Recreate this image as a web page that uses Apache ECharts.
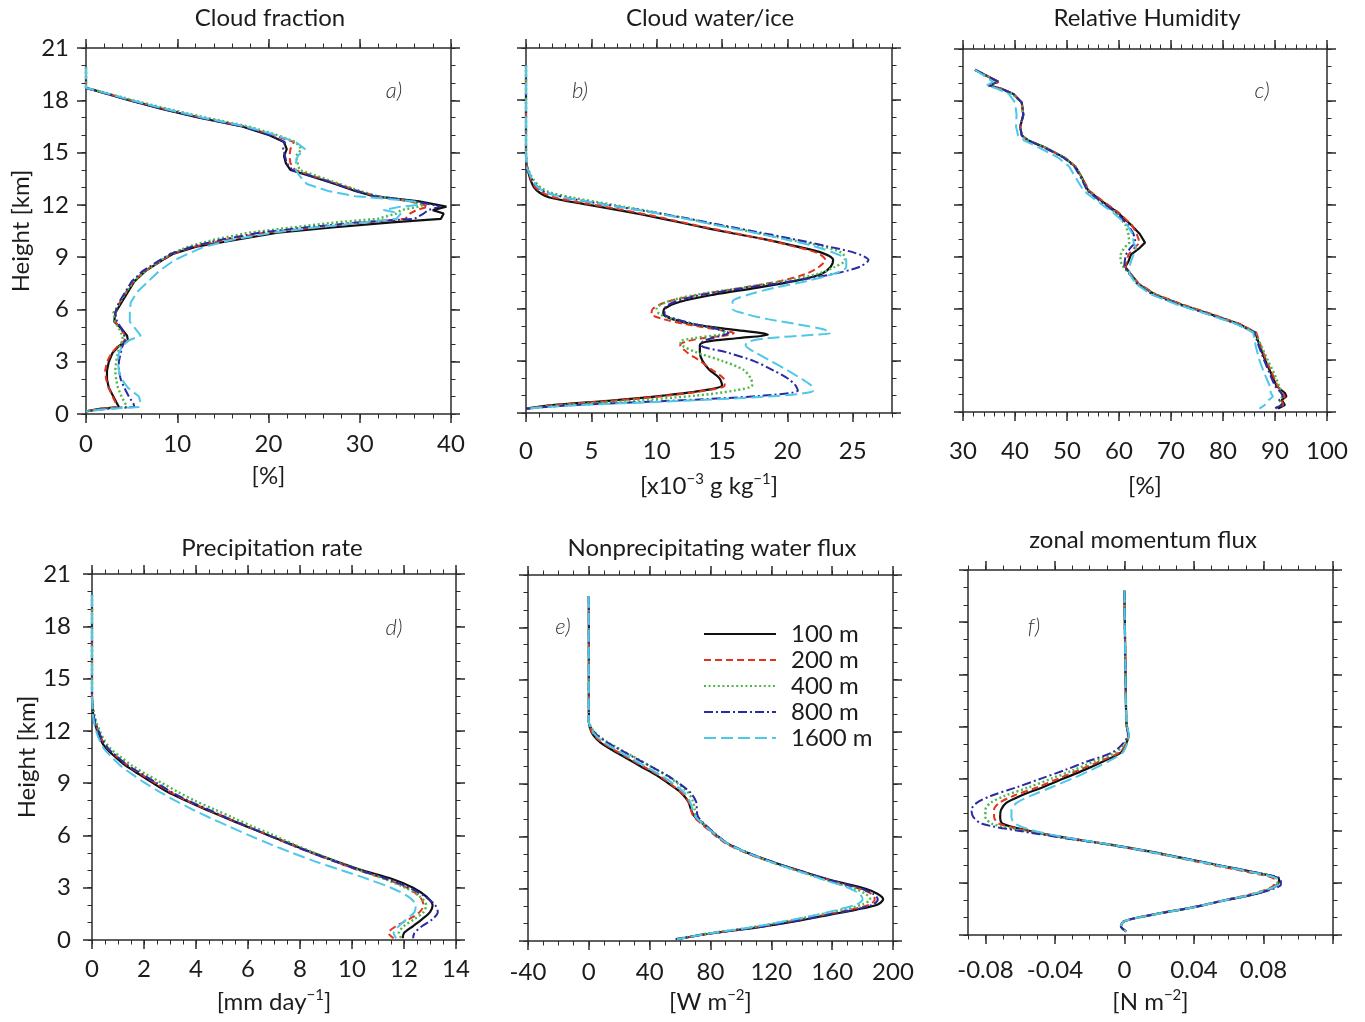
<!DOCTYPE html>
<html>
<head>
<meta charset="utf-8">
<title>Profiles</title>
<script src="https://cdn.jsdelivr.net/npm/echarts@6/dist/echarts.min.js"></script>
<style>
  html, body { margin: 0; padding: 0; background: #fff; }
  #chart { width: 1365px; height: 1022px; }
</style>
</head>
<body>
<div id="chart"></div>
<script>
// runs (grid spacings)
const RUNS = ['100 m', '200 m', '400 m', '800 m', '1600 m'];

// a) cloud fraction [%]
const hA = [19.9, 18.7, 18.6, 18.0, 17.5, 17.0, 16.5, 16.0, 15.6, 15.2, 14.8, 14.4, 14.0, 13.6, 13.2, 12.8, 12.5, 12.2, 12.0, 11.9, 11.7, 11.5, 11.2, 11.0, 10.7, 10.4, 10.0, 9.6, 9.2, 8.8, 8.2, 7.6, 7.0, 6.4, 5.8, 5.3, 4.9, 4.5, 4.2, 3.9, 3.5, 3.0, 2.5, 2.0, 1.5, 1.0, 0.6, 0.4, 0.3, 0.15];
const cfA100 = [0, 0, 0.8, 4.7, 8.3, 12.4, 17.1, 20.1, 21.7, 22.0, 21.7, 21.9, 22.4, 24.9, 27.3, 29.5, 31.5, 36.5, 38.5, 39.5, 38.0, 39.2, 38.9, 33.5, 27.0, 21.0, 16.5, 12.1, 9.6, 8.3, 6.5, 5.3, 4.6, 3.9, 3.2, 3.1, 3.9, 4.5, 4.6, 3.6, 2.9, 2.5, 2.3, 2.3, 2.5, 3.0, 3.4, 3.6, 1.5, 0];
const cfA200 = [0, 0, 0.8, 4.9, 8.6, 12.7, 17.3, 20.5, 22.8, 22.4, 22.3, 22.4, 22.9, 25.2, 27.6, 29.8, 31.8, 35.5, 37.0, 37.5, 36.2, 35.5, 35.0, 30.5, 25.0, 19.5, 15.3, 11.8, 9.5, 8.2, 6.4, 5.2, 4.4, 3.7, 3.2, 3.2, 3.8, 4.3, 4.2, 3.5, 2.8, 2.3, 2.1, 2.2, 2.5, 2.9, 3.3, 3.4, 1.5, 0];
const cfA400 = [0, 0, 0.9, 5.2, 9.0, 13.2, 17.8, 21.0, 23.0, 23.6, 23.0, 23.2, 23.4, 25.6, 27.8, 30.0, 32.0, 35.5, 37.0, 36.5, 34.5, 34.0, 32.0, 27.5, 22.5, 17.8, 14.0, 11.2, 9.3, 8.2, 6.5, 5.2, 4.4, 3.7, 3.0, 3.2, 3.6, 4.0, 4.0, 3.7, 3.5, 3.3, 3.2, 3.3, 3.5, 3.9, 4.3, 4.5, 2.0, 0];
const cfA800 = [0, 0, 0.8, 4.8, 8.4, 12.5, 17.2, 20.2, 21.8, 21.6, 21.8, 22.0, 22.6, 25.0, 27.4, 29.6, 31.6, 36.0, 38.0, 38.8, 37.5, 37.0, 36.0, 30.0, 24.0, 19.0, 14.8, 11.6, 9.3, 8.0, 6.2, 5.0, 4.3, 3.6, 3.2, 3.4, 3.9, 4.2, 4.3, 4.0, 3.8, 3.6, 3.6, 3.8, 4.2, 4.7, 5.2, 5.3, 2.2, 0];
const cfA1600 = [0, 0, 0.9, 5.0, 8.7, 12.8, 17.5, 20.8, 23.0, 24.0, 23.2, 23.0, 23.0, 23.5, 24.2, 26.5, 29.5, 36.0, 36.5, 34.5, 32.6, 34.5, 34.0, 30.5, 25.0, 20.5, 16.0, 13.0, 11.2, 9.6, 8.0, 6.8, 5.6, 4.9, 4.8, 4.8, 5.4, 6.0, 4.6, 4.0, 3.6, 3.5, 3.6, 3.9, 4.6, 5.8, 6.0, 5.8, 2.5, 0];

// b) cloud water/ice [1e-3 g/kg]
const hB = [20.0, 15.0, 14.2, 13.8, 13.4, 13.0, 12.7, 12.4, 12.0, 11.6, 11.2, 10.8, 10.4, 10.0, 9.6, 9.2, 8.8, 8.4, 8.0, 7.6, 7.2, 6.8, 6.4, 6.0, 5.7, 5.4, 5.1, 4.8, 4.6, 4.5, 4.3, 4.1, 3.9, 3.5, 3.0, 2.5, 2.0, 1.6, 1.3, 1.0, 0.7, 0.45, 0.25];
const cwB100 = [0, 0, 0.05, 0.2, 0.35, 0.6, 1.0, 1.8, 4.6, 7.6, 10.3, 12.8, 15.4, 18.2, 20.6, 22.7, 23.5, 23.3, 22.6, 20.6, 17.6, 14.3, 11.8, 10.6, 10.5, 11.2, 12.8, 15.8, 18.0, 18.5, 16.1, 13.8, 13.3, 13.3, 13.5, 14.0, 14.8, 15.0, 13.6, 10.5, 6.3, 2.0, 0];
const cwB200 = [0, 0, 0.05, 0.25, 0.4, 0.7, 1.2, 2.2, 5.0, 8.0, 10.6, 13.0, 15.6, 18.2, 20.4, 22.3, 22.9, 22.4, 21.4, 19.5, 16.5, 13.2, 10.8, 9.7, 9.6, 10.5, 12.3, 14.6, 15.9, 15.6, 13.5, 12.2, 11.8, 12.3, 13.3, 14.2, 15.1, 15.2, 13.8, 10.8, 6.5, 2.0, 0];
const cwB400 = [0, 0, 0.1, 0.3, 0.6, 1.1, 1.8, 3.5, 6.5, 9.5, 12.2, 14.8, 17.4, 20.0, 22.6, 24.2, 24.4, 23.6, 22.3, 19.8, 16.5, 13.0, 10.8, 10.0, 10.2, 11.3, 13.0, 14.8, 15.3, 14.8, 12.8, 11.8, 11.9, 13.0, 15.0, 16.6, 17.2, 17.3, 16.0, 13.0, 8.0, 2.8, 0];
const cwB800 = [0, 0, 0.05, 0.25, 0.5, 0.9, 1.5, 3.0, 6.0, 9.3, 12.3, 15.0, 17.8, 20.5, 23.0, 25.2, 26.2, 25.5, 23.5, 20.5, 16.8, 13.5, 11.4, 10.6, 10.6, 11.5, 13.0, 14.8, 15.5, 15.2, 14.2, 13.5, 13.4, 15.3, 17.4, 18.8, 20.0, 20.6, 20.8, 18.2, 11.0, 3.5, 0];
const cwB1600 = [0, 0, 0.05, 0.25, 0.5, 0.9, 1.5, 3.0, 6.0, 9.2, 12.0, 14.6, 17.3, 19.8, 22.0, 23.6, 24.5, 24.5, 23.5, 21.5, 19.0, 17.0, 15.8, 15.8, 16.8, 18.5, 20.8, 22.8, 23.3, 22.0, 18.5, 17.0, 16.8, 17.5, 18.7, 19.9, 21.0, 21.8, 22.0, 19.5, 12.0, 4.0, 0];

// c) relative humidity [%]
const hC = [19.8, 19.1, 18.9, 18.7, 18.4, 17.9, 17.2, 16.5, 16.0, 15.7, 15.3, 14.7, 14.2, 13.6, 12.8, 12.2, 11.5, 10.8, 10.3, 9.8, 9.5, 9.1, 8.7, 8.4, 8.0, 7.4, 6.8, 6.2, 5.7, 5.1, 4.6, 3.8, 3.0, 2.2, 1.5, 1.1, 0.9, 0.7, 0.4, 0.2];
const rhC100 = [32.3, 36.8, 34.9, 37.4, 39.7, 41.3, 41.6, 41.0, 41.3, 42.6, 45.8, 49.6, 51.6, 52.8, 54.1, 56.7, 59.9, 62.4, 64.0, 65.0, 64.0, 62.3, 61.8, 61.2, 62.2, 63.8, 66.9, 72.1, 77.2, 83.0, 86.2, 87.1, 88.1, 89.3, 90.3, 91.9, 92.2, 91.3, 91.9, 90.6];
const rhC200 = [32.3, 36.8, 34.9, 37.4, 39.7, 41.3, 41.6, 41.0, 41.3, 42.6, 45.8, 49.6, 51.6, 52.8, 54.3, 56.9, 60.1, 62.5, 63.4, 64.0, 63.0, 61.8, 61.5, 61.2, 62.2, 63.9, 67.1, 72.4, 77.5, 83.2, 86.4, 87.3, 88.3, 89.5, 90.5, 91.5, 91.9, 91.2, 91.6, 90.2];
const rhC400 = [32.3, 36.6, 34.7, 37.2, 39.5, 41.2, 41.6, 41.0, 41.3, 42.6, 45.8, 49.6, 51.6, 52.8, 54.0, 56.3, 59.5, 61.3, 61.8, 62.0, 61.0, 60.3, 60.3, 60.8, 62.0, 63.7, 66.8, 72.0, 77.0, 82.8, 86.1, 87.4, 88.6, 89.9, 90.8, 91.3, 91.5, 90.9, 91.2, 90.0];
const rhC800 = [32.3, 36.8, 34.9, 37.4, 39.7, 41.3, 41.6, 41.0, 41.3, 42.6, 45.6, 49.4, 51.4, 52.6, 53.9, 56.4, 59.6, 61.8, 62.8, 63.2, 62.2, 61.3, 61.1, 61.0, 62.0, 63.5, 66.4, 71.6, 76.8, 82.6, 86.0, 86.9, 87.9, 89.0, 90.0, 91.2, 91.5, 90.8, 91.3, 89.8];
const rhC1600 = [32.3, 35.8, 34.6, 36.6, 38.8, 40.0, 40.3, 40.2, 40.6, 41.8, 44.6, 48.4, 50.4, 51.6, 53.2, 55.8, 59.0, 61.6, 62.6, 62.8, 63.3, 62.8, 62.3, 62.0, 62.0, 63.3, 66.2, 71.3, 76.6, 82.5, 85.8, 86.3, 87.0, 88.0, 89.0, 89.2, 89.6, 88.8, 88.0, 87.0];

// d) precipitation rate [mm/day]
const hD = [19.8, 14.0, 13.0, 12.5, 12.0, 11.5, 11.0, 10.5, 10.0, 9.5, 9.0, 8.5, 8.0, 7.5, 7.0, 6.5, 6.0, 5.5, 5.0, 4.5, 4.0, 3.5, 3.0, 2.5, 2.0, 1.6, 1.2, 0.8, 0.4, 0.1];
const prD100 = [0, 0, 0.04, 0.1, 0.2, 0.32, 0.54, 0.9, 1.3, 1.82, 2.35, 2.9, 3.6, 4.35, 5.15, 5.97, 6.8, 7.65, 8.5, 9.42, 10.4, 11.55, 12.35, 12.85, 13.1, 13.0, 12.7, 12.35, 12.0, 11.95];
const prD200 = [0, 0, 0.05, 0.12, 0.24, 0.38, 0.6, 0.97, 1.38, 1.9, 2.45, 3.0, 3.65, 4.4, 5.2, 6.0, 6.8, 7.6, 8.45, 9.35, 10.25, 11.3, 12.1, 12.6, 12.75, 12.6, 12.2, 11.7, 11.4, 11.6];
const prD400 = [0, 0, 0.08, 0.17, 0.3, 0.46, 0.7, 1.1, 1.55, 2.1, 2.7, 3.3, 3.95, 4.7, 5.45, 6.2, 7.0, 7.75, 8.55, 9.4, 10.3, 11.25, 12.05, 12.6, 12.85, 12.75, 12.4, 12.0, 11.8, 11.9];
const prD800 = [0, 0, 0.05, 0.13, 0.25, 0.4, 0.62, 0.98, 1.4, 1.95, 2.5, 3.05, 3.7, 4.45, 5.2, 6.0, 6.8, 7.6, 8.45, 9.35, 10.3, 11.35, 12.2, 12.8, 13.2, 13.3, 13.1, 12.7, 12.4, 12.35];
const prD1600 = [0, 0, 0.03, 0.08, 0.16, 0.28, 0.45, 0.75, 1.1, 1.55, 2.05, 2.6, 3.2, 3.85, 4.55, 5.3, 6.05, 6.85, 7.7, 8.6, 9.6, 10.6, 11.5, 12.15, 12.45, 12.4, 12.1, 11.8, 11.6, 11.7];

// e) nonprecipitating water flux [W/m2]
const hE = [19.8, 12.6, 12.2, 11.8, 11.4, 11.0, 10.5, 10.0, 9.5, 9.0, 8.5, 8.0, 7.6, 7.2, 6.8, 6.2, 5.6, 5.0, 4.5, 4.0, 3.5, 3.0, 2.7, 2.4, 2.1, 1.8, 1.5, 1.2, 0.8, 0.4, 0.1];
const wfE100 = [0, 0, 0.8, 3.0, 7.5, 14.5, 24.5, 34.5, 44.6, 53, 60.7, 65.4, 67.0, 69.0, 74, 82, 91, 106, 122, 140, 159, 182, 190, 193.5, 190, 176, 158, 140, 112, 78, 58];
const wfE200 = [0, 0, 1.0, 3.5, 8.5, 16, 26, 36, 46, 54, 61, 65.5, 67.0, 68.5, 73, 81, 90, 105, 121, 139, 158, 178, 186, 188, 185, 172, 155, 137, 110, 77, 57];
const wfE400 = [0, 0, 2.0, 6.0, 12.5, 20.5, 31, 41, 51, 59, 65.5, 68.5, 69.5, 70.5, 74.5, 82, 91, 106, 121, 138, 156, 175, 182, 185, 180, 167, 151, 134, 108, 76, 57];
const wfE800 = [0, 0, 1.8, 5.5, 12, 20, 30.5, 41, 51.5, 60, 67, 70.5, 71, 71.5, 75, 82.5, 91.5, 106.5, 122, 139.5, 158, 179, 187, 190, 187, 175, 157, 139, 112, 78, 57];
const wfE1600 = [0, 0, 1.2, 4.5, 10, 17.5, 27.5, 37.5, 47.5, 56, 63, 66.5, 68, 69.5, 74, 82, 91, 106, 121, 138, 155, 172, 178, 180, 176, 164, 150, 133, 108, 77, 58];

// f) zonal momentum flux [N/m2]
const hF = [19.8, 12.5, 12.0, 11.5, 11.0, 10.5, 10.0, 9.5, 9.0, 8.5, 8.0, 7.6, 7.2, 6.8, 6.4, 6.0, 5.6, 5.2, 4.8, 4.4, 4.0, 3.6, 3.2, 2.9, 2.6, 2.3, 2.0, 1.6, 1.2, 0.8, 0.5, 0.2];
const mfF100 = [0, 0.001, 0.0013, 0.0023, 0.001, -0.002, -0.012, -0.023, -0.035, -0.047, -0.060, -0.068, -0.071, -0.0715, -0.070, -0.055, -0.034, -0.008, 0.015, 0.035, 0.055, 0.075, 0.089, 0.088, 0.083, 0.073, 0.058, 0.040, 0.018, 0.000, -0.002, 0.001];
const mfF200 = [0, 0.001, 0.0015, 0.0025, 0.001, -0.003, -0.014, -0.026, -0.038, -0.050, -0.064, -0.072, -0.075, -0.075, -0.072, -0.056, -0.034, -0.009, 0.013, 0.033, 0.052, 0.072, 0.086, 0.086, 0.081, 0.071, 0.057, 0.040, 0.018, 0.000, -0.002, 0.001];
const mfF400 = [0, 0.001, 0.0015, 0.0025, 0.000, -0.005, -0.017, -0.029, -0.042, -0.055, -0.069, -0.077, -0.080, -0.080, -0.076, -0.058, -0.035, -0.009, 0.014, 0.034, 0.054, 0.074, 0.088, 0.088, 0.082, 0.072, 0.058, 0.040, 0.018, 0.000, -0.002, 0.001];
const mfF800 = [0, 0.001, 0.0015, 0.002, -0.001, -0.007, -0.021, -0.034, -0.048, -0.062, -0.077, -0.085, -0.088, -0.087, -0.082, -0.061, -0.036, -0.009, 0.014, 0.035, 0.055, 0.075, 0.090, 0.090, 0.084, 0.073, 0.058, 0.040, 0.018, 0.000, -0.002, 0.001];
const mfF1600 = [0, 0.001, 0.0015, 0.0025, 0.0015, -0.001, -0.009, -0.019, -0.030, -0.042, -0.054, -0.062, -0.065, -0.065, -0.063, -0.052, -0.033, -0.008, 0.014, 0.034, 0.054, 0.074, 0.088, 0.088, 0.082, 0.072, 0.058, 0.040, 0.018, 0.000, -0.002, 0.001];

// tick labels
const heightTicks = [0, 3, 6, 9, 12, 15, 18, 21];
const ticksA = [0, 10, 20, 30, 40];
const ticksB = [0, 5, 10, 15, 20, 25];
const ticksC = [30, 40, 50, 60, 70, 80, 90, 100];
const ticksD = [0, 2, 4, 6, 8, 10, 12, 14];
const ticksE = [-40, 0, 40, 80, 120, 160, 200];
const ticksF = [-0.08, -0.04, 0, 0.04, 0.08];

// ---------- styling ----------
const FONT = 'Lato, "Open Sans", sans-serif';
const FS = 24;
const INK = '#1c1c1c';
const AXIS = '#2b2b2b';
const RUN_COLORS = ['#111111', '#e3331f', '#4bb848', '#2a2aa6', '#4ec7e8'];
const RUN_DASH = ['solid', [7, 4], [2, 2.6], [9, 3, 2, 3], [12, 5]];
const RUN_WIDTH = [2.2, 2, 2.4, 2, 2];

function steps(min, max, step) {
  const out = [];
  const n = Math.round((max - min) / step);
  for (let i = 0; i <= n; i++) out.push(+(min + i * step).toFixed(6));
  return out;
}

const panels = [
  { title: 'Cloud fraction', titleXY: [270, 18], tag: 'a)', tagXY: [394, 91],
    grid: { left: 86, top: 48, width: 365, height: 366 },
    x: { min: 0, max: 40, major: ticksA, labels: ticksA, minor: steps(0, 40, 2), margin: 18, name: '[%]', nameGap: 50 },
    yLabels: true, yMargin: 17, heights: hA, runs: [cfA100, cfA200, cfA400, cfA800, cfA1600], smooth: false },
  { title: 'Cloud water/ice', titleXY: [710, 18], tag: 'b)', tagXY: [580, 91],
    grid: { left: 526, top: 48, width: 366, height: 365 },
    x: { min: 0, max: 28, major: ticksB, labels: ticksB, minor: steps(0, 28, 1), margin: 26,
         name: '[x10{sup|\u22123} g kg{sup|\u22121}]', nameGap: 59 },
    yLabels: false, heights: hB, runs: [cwB100, cwB200, cwB400, cwB800, cwB1600], smooth: 0.3 },
  { title: 'Relative Humidity', titleXY: [1147, 18], tag: 'c)', tagXY: [1262, 91],
    grid: { left: 963, top: 49, width: 364, height: 363 },
    x: { min: 30, max: 100, major: ticksC, labels: ticksC, minor: steps(30, 100, 2), margin: 27, name: '[%]', nameGap: 62 },
    yLabels: false, heights: hC, runs: [rhC100, rhC200, rhC400, rhC800, rhC1600], smooth: false },
  { title: 'Precipitation rate', titleXY: [272, 548], tag: 'd)', tagXY: [394, 628],
    grid: { left: 92, top: 574, width: 364, height: 366 },
    x: { min: 0, max: 14, major: ticksD, labels: ticksD, minor: steps(0, 14, 0.5), margin: 17,
         name: '[mm day{sup|\u22121}]', nameGap: 48 },
    yLabels: true, yMargin: 21, heights: hD, runs: [prD100, prD200, prD400, prD800, prD1600], smooth: 0.3 },
  { title: 'Nonprecipitating water flux', titleXY: [712, 548], tag: 'e)', tagXY: [563, 627],
    grid: { left: 528, top: 575, width: 365, height: 366 },
    x: { min: -40, max: 200, major: ticksE, labels: ticksE, minor: steps(-40, 200, 10), margin: 19,
         name: '[W m{sup|\u22122}]', nameGap: 47 },
    yLabels: false, heights: hE, runs: [wfE100, wfE200, wfE400, wfE800, wfE1600], smooth: 0.3 },
  { title: 'zonal momentum flux', titleXY: [1143, 540], tag: 'f)', tagXY: [1034, 627],
    grid: { left: 968, top: 570, width: 365, height: 365 },
    x: { min: -0.09, max: 0.12, major: [-0.08, -0.04, 0, 0.04, 0.08, 0.12], labels: ticksF, minor: steps(-0.09, 0.12, 0.01), margin: 23,
         name: '[N m{sup|\u22122}]', nameGap: 53 },
    yLabels: false, heights: hF, runs: [mfF100, mfF200, mfF400, mfF800, mfF1600], smooth: 0.3 }
];

const nameRich = {
  sup: { fontSize: 15, fontFamily: FONT, color: INK, padding: [0, 0, 13, 0] }
};

function sideAxes(dim, g, cfg, withLabels, labelCfg) {
  const sides = dim === 'x' ? ['bottom', 'top'] : ['left', 'right'];
  const base = {
    type: 'value', gridIndex: g, min: cfg.min, max: cfg.max,
    splitLine: { show: false },
    axisLine: { show: true, onZero: false, lineStyle: { color: AXIS, width: 1.5 } }
  };
  const out = [];
  sides.forEach((pos, k) => {
    const main = Object.assign({}, base, {
      position: pos,
      axisTick: { show: true, inside: false, length: 9, customValues: cfg.major, lineStyle: { color: AXIS, width: 1.5 } },
      axisLabel: { show: false }
    });
    if (k === 0 && withLabels) {
      main.axisLabel = {
        show: true, customValues: cfg.labels, margin: cfg.margin,
        fontSize: FS, fontFamily: FONT, color: INK
      };
    }
    if (k === 0 && labelCfg) Object.assign(main, labelCfg);
    out.push(main);
    out.push(Object.assign({}, base, {
      position: pos,
      axisLine: { show: false, onZero: false },
      axisTick: { show: true, inside: false, length: 4.5, customValues: cfg.minor, lineStyle: { color: AXIS, width: 1 } },
      axisLabel: { show: false }
    }));
  });
  return out;
}

const grids = [];
const xAxes = [];
const yAxes = [];
const series = [];
const graphics = [];

panels.forEach((p, g) => {
  grids.push(Object.assign({ outerBoundsMode: 'none', containLabel: false }, p.grid));

  const xi = xAxes.length;
  xAxes.push(...sideAxes('x', g, p.x, true, {
    name: p.x.name, nameLocation: 'middle', nameGap: p.x.nameGap,
    nameTextStyle: { fontSize: FS, fontFamily: FONT, color: INK, rich: nameRich }
  }));

  const yi = yAxes.length;
  const yCfg = { min: 0, max: 21, major: heightTicks, labels: heightTicks, minor: steps(0, 21, 1), margin: p.yMargin };
  yAxes.push(...sideAxes('y', g, yCfg, p.yLabels, p.yLabels ? {
    name: 'Height [km]', nameLocation: 'middle', nameGap: 53,
    nameTextStyle: { fontSize: FS, fontFamily: FONT, color: INK }
  } : null));

  // later runs are drawn on top, as in the original figure
  p.runs.forEach((vals, r) => {
    series.push({
      name: RUNS[r], type: 'line', xAxisIndex: xi, yAxisIndex: yi,
      data: p.heights.map((h, k) => [vals[k], h]),
      symbol: 'none', showSymbol: false, smooth: p.smooth,
      lineStyle: { color: RUN_COLORS[r], width: RUN_WIDTH[r], type: RUN_DASH[r] },
      itemStyle: { color: RUN_COLORS[r] }
    });
  });

  graphics.push({
    type: 'text', x: p.titleXY[0], y: p.titleXY[1],
    style: { text: p.title, font: FS + 'px ' + FONT, fill: INK, textAlign: 'center', textVerticalAlign: 'middle' }
  });
  graphics.push({
    type: 'text', x: p.tagXY[0], y: p.tagXY[1],
    style: { text: p.tag, font: 'italic 300 22px ' + FONT, fill: '#333', textAlign: 'center', textVerticalAlign: 'middle' }
  });
});

const chart = echarts.init(document.getElementById('chart'), null, { renderer: 'canvas' });
chart.setOption({
  backgroundColor: '#ffffff',
  animation: false,
  grid: grids,
  xAxis: xAxes,
  yAxis: yAxes,
  series: series,
  graphic: graphics,
  legend: {
    data: RUNS.map(n => ({ name: n, itemStyle: { opacity: 0 } })),
    orient: 'vertical', left: 698, top: 617,
    itemWidth: 72, itemHeight: 14, itemGap: 2,
    itemStyle: { opacity: 0, borderWidth: 0 },
    textStyle: { fontSize: FS, fontFamily: FONT, color: INK, padding: [0, 0, 0, 10] },
    selectedMode: false
  }
});
</script>
</body>
</html>
